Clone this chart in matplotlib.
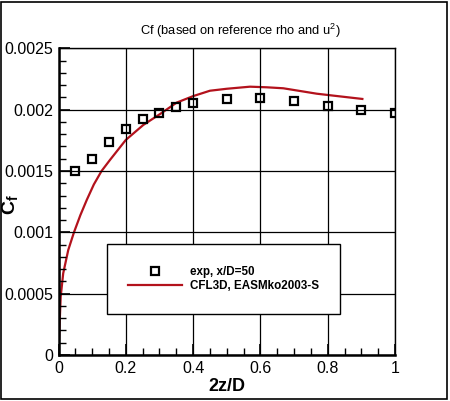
import numpy as np
import matplotlib
matplotlib.use("Agg")
import matplotlib.pyplot as plt
from matplotlib.patches import Rectangle
from matplotlib.ticker import MultipleLocator

plt.rcParams['font.family'] = ['Liberation Sans', 'DejaVu Sans']
plt.rcParams['mathtext.fontset'] = 'custom'
plt.rcParams['mathtext.rm'] = 'Liberation Sans'
plt.rcParams['mathtext.bf'] = 'Liberation Sans:bold'

# experiment, x/D=50
exp_x = [0.05, 0.1, 0.15, 0.2, 0.25, 0.3, 0.35, 0.4, 0.5, 0.6, 0.7, 0.8, 0.9, 1.0]
exp_cf = [0.00150, 0.00160, 0.00174, 0.001845, 0.001926, 0.00197, 0.00202,
          0.002057, 0.00209, 0.002095, 0.002073, 0.002032, 0.00200, 0.001973]

# CFL3D, EASMko2003-S
cfd_x = [0.0, 0.001, 0.003, 0.0065, 0.014, 0.029, 0.046, 0.065, 0.084, 0.105,
         0.128, 0.153, 0.2, 0.252, 0.305, 0.351, 0.4, 0.45, 0.5, 0.569, 0.619,
         0.668, 0.767, 0.817, 0.903]
cfd_cf = [0.0, 0.00010, 0.00023, 0.000475, 0.000666, 0.000856, 0.00100,
          0.00114, 0.001264, 0.00139, 0.00150, 0.00159, 0.001753, 0.001875,
          0.00197, 0.002057, 0.00211, 0.002154, 0.00217, 0.002187, 0.002182,
          0.002174, 0.00213, 0.002114, 0.002087]

xticks = [0, 0.2, 0.4, 0.6, 0.8, 1.0]
xtick_labels = ['0', '0.2', '0.4', '0.6', '0.8', '1']
yticks = [0, 0.0005, 0.001, 0.0015, 0.002, 0.0025]
ytick_labels = ['0', '0.0005', '0.001', '0.0015', '0.002', '0.0025']

fig = plt.figure(figsize=(4.5, 4.01), dpi=100)
ax = fig.add_axes([0.13, 0.1147, 0.7478, 0.7649])

ax.plot(exp_x, exp_cf, 's', ms=6.3, mfc='none', mec='black', mew=1.6,
        label='exp, x/D=50', zorder=3)
ax.plot(cfd_x, cfd_cf, '-', color='#b3121c', lw=1.6,
        label='CFL3D, EASMko2003-S', zorder=2)

ax.set_xlim(0, 1)
ax.set_ylim(0, 0.0025)
ax.set_xticks(xticks)
ax.set_xticklabels(xtick_labels)
ax.set_yticks(yticks)
ax.set_yticklabels(ytick_labels)
ax.xaxis.set_minor_locator(MultipleLocator(0.05))
ax.yaxis.set_minor_locator(MultipleLocator(0.0001))

ax.tick_params(which='both', direction='in', top=False, right=False,
               labelsize=11.5, color='black')
ax.tick_params(which='major', length=8, width=1.2, pad=4)
ax.tick_params(which='minor', length=5, width=1)
ax.grid(True, which='major', color='black', lw=0.9)
ax.set_axisbelow(False)

for side in ['left', 'bottom']:
    ax.spines[side].set_linewidth(1.8)
for side in ['top', 'right']:
    ax.spines[side].set_linewidth(1.0)

ax.set_xlabel('2z/D', fontsize=13, fontweight='bold', labelpad=2)
ax.set_ylabel(r'$\mathbf{C_f}$', fontsize=14, va='center', ha='center')
ax.yaxis.set_label_coords(-0.143, 0.49)
fig.text(0.535, 0.922, r'Cf (based on reference rho and u$^2$)',
         fontsize=9.3, ha='center', va='center')

leg = ax.legend(loc='upper left', bbox_to_anchor=(0.1434, 0.361),
                borderaxespad=0,
                prop={'weight': 'bold', 'size': 8.4},
                handlelength=4.6, handletextpad=0.65, borderpad=1.85,
                labelspacing=0.22, fancybox=False, framealpha=1,
                edgecolor='black')
leg.get_frame().set_linewidth(1.0)

fig.add_artist(Rectangle((0.003, 0.004), 0.991, 0.992, transform=fig.transFigure,
                         fill=False, edgecolor='black', lw=1.2))

fig.savefig('out.png', dpi=100)
